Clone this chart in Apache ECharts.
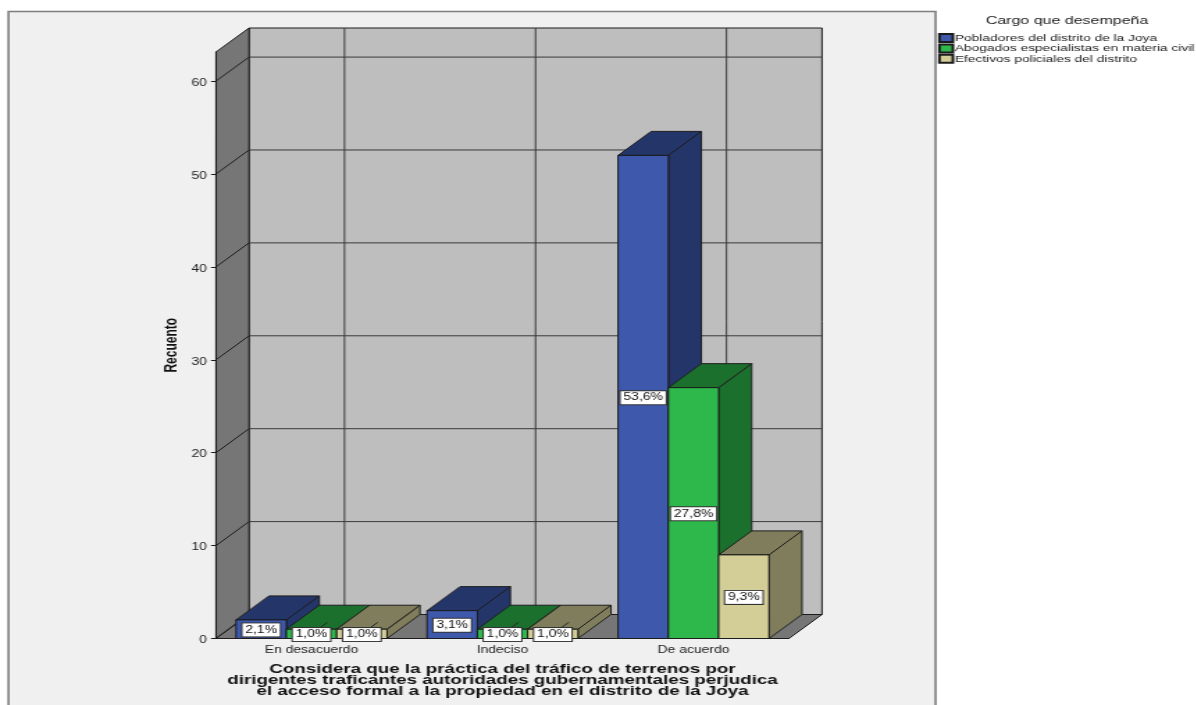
<!DOCTYPE html>
<html>
<head>
<meta charset="utf-8">
<style>
html,body{margin:0;padding:0;background:#fff;overflow:hidden}
#chart{position:absolute;left:0;top:0;height:705px;transform-origin:0 0}
</style>
<script src="https://cdn.jsdelivr.net/npm/echarts@6/dist/echarts.min.js"></script>
</head>
<body>
<div id="chart"></div>
<script>
// Counts per answer and per respondent group
const categories = ['En desacuerdo', 'Indeciso', 'De acuerdo'];
const groupNames = ['Pobladores del distrito de la Joya', 'Abogados especialistas en materia civil', 'Efectivos policiales del distrito'];
const pobladores = [2, 3, 52];
const abogados = [1, 1, 27];
const efectivos = [1, 1, 9];
const yTicks = [0, 10, 20, 30, 40, 50, 60];

const groupValues = [pobladores, abogados, efectivos];
const frontColors = ['#3e58ac', '#2eb84b', '#d3ce97'];
const shadeColors = ['#24356a', '#1b702e', '#7f7d5b'];

// The page is drawn on a narrower canvas and widened to the full window
const WIDEN = 1.39;
const PAGE_W = 1196 / WIDEN;
const sx = v => v / WIDEN;
const depthX = sx(33);
const depthY = 24;
const EDGE = '#1c1c1c';
const TAG_H = 13;

const total = groupValues.flat().reduce((a, b) => a + b, 0);
const percentLabel = v => (v / total * 100).toFixed(1).replace('.', ',') + '%';

const chartEl = document.getElementById('chart');
chartEl.style.width = PAGE_W + 'px';
chartEl.style.transform = 'scaleX(' + WIDEN + ')';

function face(points, fill) {
  return {
    type: 'polygon',
    shape: { points },
    style: { fill, stroke: EDGE, lineWidth: 1 }
  };
}

// Back wall, side wall, floor and grid lines of the 3D box
function renderWalls(params, api) {
  const box = params.coordSys;
  const L = box.x, R = box.x + box.width, T = box.y, B = box.y + box.height;
  const children = [
    face([[L + depthX, T - depthY], [R + depthX, T - depthY], [R + depthX, B - depthY], [L + depthX, B - depthY]], '#bebebe'),
    face([[L, T], [L + depthX, T - depthY], [L + depthX, B - depthY], [L, B]], '#767676'),
    face([[L, B], [L + depthX, B - depthY], [R + depthX, B - depthY], [R, B]], '#767676')
  ];
  yTicks.forEach(t => {
    const y = api.coord([0, t])[1];
    if (t > 0) {
      children.push({ type: 'line', shape: { x1: L + depthX, y1: y - depthY, x2: R + depthX, y2: y - depthY }, style: { stroke: '#3a3a3a', lineWidth: 1 } });
    }
    children.push({ type: 'line', shape: { x1: L, y1: y, x2: L + depthX, y2: y - depthY }, style: { stroke: EDGE, lineWidth: 1 } });
  });
  categories.forEach((c, i) => {
    const x = api.coord([i, 0])[0] + depthX;
    children.push({ type: 'line', shape: { x1: x, y1: T - depthY, x2: x, y2: B - depthY }, style: { stroke: '#3a3a3a', lineWidth: 1 } });
  });
  return { type: 'group', children };
}

// One 3D bar: front, top and side faces from the axis scales
function renderBar(seriesIdx) {
  return function (params, api) {
    const cat = api.value(0), val = api.value(1);
    const band = api.size([1, 0])[0];
    const barW = band * 0.2635;
    const base = api.coord([cat, 0]);
    const top = api.coord([cat, val]);
    const x0 = base[0] + (seriesIdx - 1.5) * barW, x1 = x0 + barW;
    const y0 = top[1], y1 = base[1];
    return {
      type: 'group',
      children: [
        face([[x1, y0], [x1 + depthX, y0 - depthY], [x1 + depthX, y1 - depthY], [x1, y1]], shadeColors[seriesIdx]),
        face([[x0, y0], [x0 + depthX, y0 - depthY], [x1 + depthX, y0 - depthY], [x1, y0]], shadeColors[seriesIdx]),
        face([[x0, y0], [x1, y0], [x1, y1], [x0, y1]], frontColors[seriesIdx])
      ]
    };
  };
}

// Percentage tags go on last so neighbouring bars never hide them.
// A tag taller than its bar gets a short leader running back from its centre.
function renderTags(params, api) {
  const cat = api.value(0), val = api.value(1), idx = api.value(2);
  const band = api.size([1, 0])[0];
  const barW = band * 0.2635;
  const xMid = api.coord([cat, 0])[0] + (idx - 1) * barW;
  const yMid = api.coord([cat, val / 2])[1];
  const children = [];
  if (api.size([0, val])[1] < TAG_H) {
    children.push({
      type: 'line',
      shape: { x1: xMid, y1: yMid, x2: xMid + depthX * 0.48, y2: yMid - depthY * 0.48 },
      style: { stroke: '#222', lineWidth: 1 }
    });
  }
  children.push({
    type: 'text',
    x: xMid,
    y: yMid + 0.7,
    style: {
      text: percentLabel(val),
      fontFamily: 'Liberation Sans',
      fontSize: 10,
      fill: '#111',
      align: 'center',
      verticalAlign: 'middle',
      backgroundColor: '#fff',
      borderColor: '#333',
      borderWidth: 1,
      padding: [2, 2, 1, 2]
    }
  });
  return { type: 'group', children };
}

const tagData = [];
groupValues.forEach((vals, g) => vals.forEach((v, c) => tagData.push([c, v, g])));

const series = [
  { type: 'custom', name: 'box', silent: true, z: 1, renderItem: renderWalls, data: [[0, 0]], clip: false }
];
groupNames.forEach((name, g) => {
  series.push({
    type: 'custom',
    name,
    z: 3,
    clip: false,
    renderItem: renderBar(g),
    itemStyle: { color: frontColors[g], borderColor: EDGE, borderWidth: 1 },
    data: groupValues[g].map((v, c) => [c, v])
  });
});
series.push({ type: 'custom', name: 'tags', silent: true, z: 5, clip: false, renderItem: renderTags, data: tagData });

const chart = echarts.init(chartEl, null, { renderer: 'canvas', devicePixelRatio: 1 });
chart.setOption({
  animation: false,
  backgroundColor: '#ffffff',
  textStyle: { fontFamily: 'Liberation Sans' },
  graphic: [{
    type: 'rect',
    z: -10,
    shape: { x: sx(8.5), y: 11.5, width: sx(927), height: 720 },
    style: { fill: '#f0f0f0', stroke: '#7d7d7d', lineWidth: 1.6 }
  }, {
    type: 'text',
    z: 5,
    x: sx(1067),
    y: 21,
    style: {
      text: 'Cargo que desempeña',
      fontFamily: 'Liberation Sans',
      fontSize: 11.5,
      fill: '#222',
      align: 'center',
      verticalAlign: 'middle'
    }
  }],
  legend: {
    orient: 'vertical',
    left: sx(938),
    top: 33,
    itemWidth: sx(13.5),
    itemHeight: 8,
    itemGap: 0.4,
    padding: 0,
    icon: 'rect',
    data: groupNames,
    textStyle: { fontFamily: 'Liberation Sans', fontSize: 9.9, color: '#222', padding: [0, 0, 0, -3.6], lineHeight: 10 }
  },
  grid: { left: sx(216), width: sx(573), top: 52, height: 586.5 },
  xAxis: {
    type: 'category',
    data: categories,
    name: 'Considera que la práctica del tráfico de terrenos por\ndirigentes traficantes autoridades gubernamentales perjudica\nel acceso formal a la propiedad en el distrito de la Joya',
    nameLocation: 'middle',
    nameGap: 25.5,
    nameTextStyle: { fontFamily: 'Liberation Sans', fontWeight: 'bold', fontSize: 13.5, lineHeight: 11, color: '#111', verticalAlign: 'top' },
    axisLine: { lineStyle: { color: EDGE, width: 1 } },
    axisTick: { alignWithLabel: true, length: 5, lineStyle: { color: EDGE } },
    axisLabel: { fontSize: 10, color: '#222', margin: 7, fontFamily: 'Liberation Sans' },
    z: 4
  },
  yAxis: {
    type: 'value',
    min: 0,
    max: 63.13,
    interval: 10,
    name: 'Recuento',
    nameLocation: 'middle',
    nameRotate: 90,
    nameGap: 26,
    nameTextStyle: { fontFamily: 'Liberation Sans', fontWeight: 'bold', fontSize: 12, color: '#111' },
    axisLine: { show: true, lineStyle: { color: EDGE, width: 1 } },
    axisTick: { show: true, length: sx(5), lineStyle: { color: EDGE }, customValues: yTicks },
    axisLabel: { fontSize: 10, color: '#222', margin: 6.5, verticalAlign: 'top', lineHeight: 4, fontFamily: 'Liberation Sans', customValues: yTicks },
    splitLine: { show: false },
    z: 4
  },
  series
});
</script>
</body>
</html>
